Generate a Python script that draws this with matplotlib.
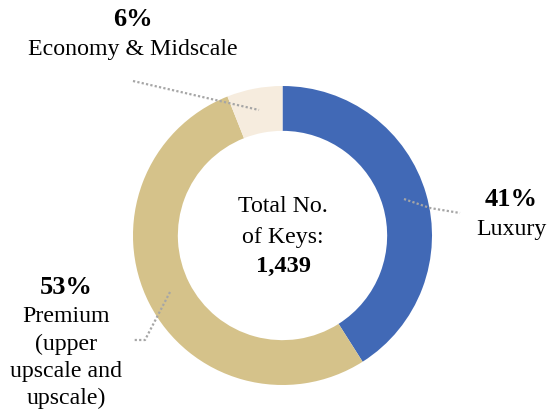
import matplotlib
matplotlib.use("Agg")
from matplotlib import pyplot as plt

# data
segments = ["Luxury", "Premium (upper upscale and upscale)", "Economy & Midscale"]
shares = [41, 53, 6]
total_keys = 1439
seg_colors = ["#4169B6", "#D5C28A", "#F6ECDE"]

W, H = 550, 409
plt.rcParams["font.family"] = ["Liberation Serif", "DejaVu Serif"]

fig = plt.figure(figsize=(W / 100, H / 100), dpi=100)

# pie in a y-up axis
pax = fig.add_axes([0, 0, 1, 1])
cx, cy, r = 282.5, H - 235.5, 149.5
pax.pie(shares, colors=seg_colors, startangle=90, counterclock=False,
        center=(cx, cy), radius=r, frame=True,
        wedgeprops=dict(width=r * 0.30, linewidth=0))
pax.set_xlim(0, W)
pax.set_ylim(0, H)
pax.set_aspect("equal")
pax.axis("off")

# overlay for labels, pixel coords with y down
ax = fig.add_axes([0, 0, 1, 1], zorder=5)
ax.set_xlim(0, W)
ax.set_ylim(H, 0)
ax.set_aspect("equal")
ax.axis("off")

fs = 17.2
pfs = 19
dot = dict(color="#A6A6A6", lw=1.6, ls=(0, (1, 1)))

# leader lines
ax.plot([133, 259], [81, 110], **dot)
ax.plot([404, 430, 460], [199, 208, 213], **dot)
ax.plot([170, 145, 133], [292, 340, 340], **dot)

def lines(x, ys, texts):
    for i, (y, t) in enumerate(zip(ys, texts)):
        ax.text(x, y, t, ha="center", va="center",
                fontsize=pfs if i == 0 else fs,
                fontweight="bold" if i == 0 else "normal")

lines(133, [20, 49], [f"{shares[2]}%", segments[2]])
lines(511, [200, 230], [f"{shares[0]}%", segments[0]])
lines(66, [287, 317, 344, 371, 398],
      [f"{shares[1]}%", "Premium", "(upper", "upscale and", "upscale)"])

ax.text(283, 207, "Total No.", ha="center", va="center", fontsize=fs)
ax.text(283, 237, "of Keys:", ha="center", va="center", fontsize=fs)
ax.text(283, 266, f"{total_keys:,}", ha="center", va="center", fontsize=17.6,
        fontweight="bold")

fig.savefig("out.png", dpi=100)
